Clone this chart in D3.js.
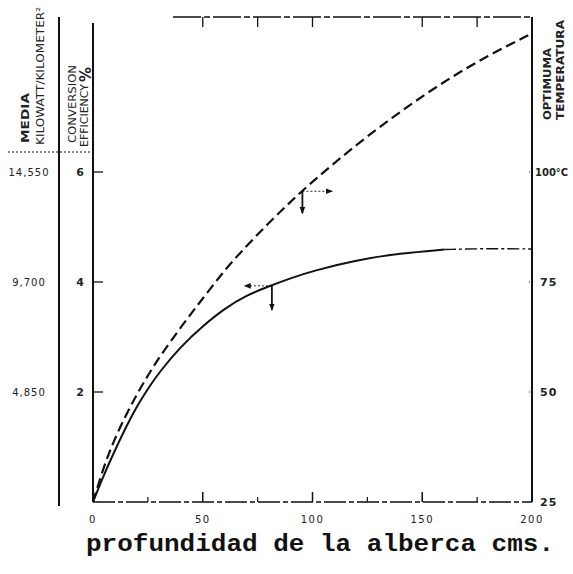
<!DOCTYPE html>
<html>
<head>
<meta charset="utf-8">
<script src="https://cdn.jsdelivr.net/npm/d3@7"></script>
<style>
  body { margin: 0; background: #fff; }
  svg { display: block; }
  .lbl { font-family: "DejaVu Sans", sans-serif; fill: #222; }
  .title { font-family: "Liberation Mono", monospace; font-weight: bold; fill: #111; }
</style>
</head>
<body>
<div id="chart"></div>
<script>
// depth of the pool (cms) and values
const depth = [0, 5, 10, 15, 20, 25, 30, 40, 50, 60, 70, 80, 90, 100, 120, 140, 160, 180, 200];
const solidValue = [0, 0.5, 0.94, 1.36, 1.74, 2.06, 2.35, 2.83, 3.2, 3.52, 3.76, 3.92, 4.07, 4.2, 4.4, 4.52, 4.59, 4.61, 4.6];
const dashValue = [0, 0.66, 1.16, 1.58, 1.96, 2.3, 2.62, 3.18, 3.7, 4.22, 4.66, 5.07, 5.46, 5.83, 6.5, 7.1, 7.65, 8.12, 8.52];
// the solid curve turns into a dash-dot line after this depth
const solidBreak = 160;

// axes
const xMajor = [0, 50, 100, 150, 200];
const xMinor = [25, 75, 125, 175];
const xTopTicks = [50, 75, 100, 150, 175];
const effTicks = [2, 4, 6];
const effLabels = ['2', '4', '6'];
const mediaLabels = ['4,850', '9,700', '14,550'];
const tempTicks = [0, 2, 4, 6];
const tempLabels = ['25', '50', '75', '100\u00b0C'];

// reading markers on the curves: [depth, value on curve, value of arrow tip, depth of side arrow]
const solidMarker = [81.5, 3.93, 3.49, 69];
const dashMarker = [95.4, 5.65, 5.25, 109];

const width = 573, height = 574;
const svg = d3.select('#chart').append('svg')
    .attr('width', width)
    .attr('height', height);

const x = d3.scaleLinear().domain([0, 200]).range([93, 532]);
const y = d3.scaleLinear().domain([0, 6]).range([502, 172]);
const yTop = 17, yBottom = 502;
const ink = '#111';

const defs = svg.append('defs');
defs.append('marker')
    .attr('id', 'head')
    .attr('viewBox', '0 0 10 10')
    .attr('refX', 9).attr('refY', 5)
    .attr('markerWidth', 7).attr('markerHeight', 7)
    .attr('markerUnits', 'userSpaceOnUse')
    .attr('orient', 'auto')
  .append('path')
    .attr('d', 'M0,1 L10,5 L0,9 Z')
    .attr('fill', ink);

//=============== frame ===============
const frame = svg.append('g').attr('stroke', ink).attr('fill', 'none');
// outer left axis (media)
frame.append('line')
    .attr('x1', 59).attr('x2', 59).attr('y1', yTop).attr('y2', yBottom + 4)
    .attr('stroke-width', 2);
// inner left axis (efficiency)
frame.append('line')
    .attr('x1', x(0)).attr('x2', x(0)).attr('y1', 23).attr('y2', yBottom)
    .attr('stroke-width', 2);
// right axis (temperature)
frame.append('line')
    .attr('x1', x(200)).attr('x2', x(200)).attr('y1', yTop).attr('y2', yBottom)
    .attr('stroke-width', 2);
// top border
frame.append('line')
    .attr('x1', 173).attr('x2', x(200)).attr('y1', yTop).attr('y2', yTop)
    .attr('stroke-width', 1.3)
    .attr('stroke-dasharray', '28,3,6,3');
// bottom axis
frame.append('line')
    .attr('x1', x(0)).attr('x2', x(200)).attr('y1', yBottom).attr('y2', yBottom)
    .attr('stroke-width', 1.3)
    .attr('stroke-dasharray', '22,3,5,3');
// header separator
frame.append('line')
    .attr('x1', 8).attr('x2', x(0)).attr('y1', 152).attr('y2', 152)
    .attr('stroke-width', 1)
    .attr('stroke-dasharray', '2,2');

// ticks
frame.selectAll('.xmaj').data(xMajor.slice(1, 4)).enter().append('line')
    .attr('x1', d => x(d)).attr('x2', d => x(d))
    .attr('y1', yBottom).attr('y2', yBottom - 10)
    .attr('stroke-width', 1.5);
frame.selectAll('.xmin').data(xMinor).enter().append('line')
    .attr('x1', d => x(d)).attr('x2', d => x(d))
    .attr('y1', yBottom).attr('y2', yBottom - 5)
    .attr('stroke-width', 1.2);
frame.selectAll('.xtop').data(xTopTicks).enter().append('line')
    .attr('x1', d => x(d)).attr('x2', d => x(d))
    .attr('y1', yTop).attr('y2', yTop + 10)
    .attr('stroke-width', 1.3);
frame.selectAll('.ytick').data(effTicks).enter().append('line')
    .attr('x1', x(0)).attr('x2', x(0) + 10)
    .attr('y1', d => y(d)).attr('y2', d => y(d))
    .attr('stroke-width', 1.3);
frame.selectAll('.rtick').data(tempTicks.slice(1)).enter().append('line')
    .attr('x1', x(200) - 3).attr('x2', x(200))
    .attr('y1', d => y(d)).attr('y2', d => y(d))
    .attr('stroke-width', 1)
    .attr('stroke-dasharray', '1,1');

//=============== labels ===============
const labels = svg.append('g').attr('class', 'lbl');
labels.selectAll('.xl').data(xMajor).enter().append('text')
    .attr('x', d => x(d)).attr('y', 523)
    .attr('text-anchor', 'middle')
    .attr('font-size', 10)
    .attr('letter-spacing', 1.5)
    .text(d => d);
labels.selectAll('.el').data(effTicks).enter().append('text')
    .attr('x', 80).attr('y', d => y(d) + 4)
    .attr('text-anchor', 'middle')
    .attr('font-size', 11)
    .attr('font-weight', 'bold')
    .text((d, i) => effLabels[i]);
labels.selectAll('.ml').data(effTicks).enter().append('text')
    .attr('x', 29).attr('y', d => y(d) + 4)
    .attr('text-anchor', 'middle')
    .attr('font-size', 10)
    .attr('letter-spacing', 1)
    .text((d, i) => mediaLabels[i]);
labels.selectAll('.tl').data(tempTicks).enter().append('text')
    .attr('x', d => d === 6 ? 535 : 540).attr('y', d => y(d) + 4)
    .attr('font-size', d => d === 6 ? 10 : 11)
    .attr('font-weight', 'bold')
    .attr('letter-spacing', d => d === 6 ? 0 : 1)
    .text((d, i) => tempLabels[i]);

// rotated axis titles: [text, baseline x, lower y, upper y, bold]
const vTitles = [
    ['MEDIA', 29, 143, 93, true],
    ['KILOWATT/KILOMETER\u00b2', 44, 145, 7, false],
    ['CONVERSION', 76, 143, 65, false],
    ['EFFICIENCY', 88, 147, 84, false],
    ['%', 91, 82, 36, true],
    ['OPTIMUMA', 551, 120, 48, true],
    ['TEMPERATURA', 564, 120, 20, true]
];
labels.selectAll('.vt').data(vTitles).enter().append('text')
    .attr('transform', d => 'translate(' + d[1] + ',' + d[2] + ') rotate(-90)')
    .attr('font-size', d => d[0] === '%' ? 15 : 10)
    .attr('font-weight', d => d[4] ? 'bold' : 'normal')
    .attr('textLength', d => d[0] === '%' ? null : d[2] - d[3])
    .attr('lengthAdjust', 'spacingAndGlyphs')
    .text(d => d[0]);

svg.append('text')
    .attr('class', 'title')
    .attr('x', 86).attr('y', 551)
    .attr('font-size', 24)
    .attr('textLength', 468)
    .attr('lengthAdjust', 'spacingAndGlyphs')
    .text('profundidad de la alberca cms.');

//=============== curves ===============
const line = d3.line()
    .x(d => x(d[0]))
    .y(d => y(d[1]))
    .curve(d3.curveBasis);

const solidPts = depth.map((d, i) => [d, solidValue[i]]);
const dashPts = depth.map((d, i) => [d, dashValue[i]]);

const curves = svg.append('g').attr('fill', 'none').attr('stroke', ink);
curves.append('path')
    .attr('d', line(dashPts))
    .attr('stroke-width', 2.2)
    .attr('stroke-dasharray', '10,5');
curves.append('path')
    .attr('d', line(solidPts.filter(p => p[0] <= solidBreak)))
    .attr('stroke-width', 2);
curves.append('path')
    .attr('d', line(solidPts.filter(p => p[0] >= solidBreak)))
    .attr('stroke-width', 1.4)
    .attr('stroke-dasharray', '12,3,3,3');

// reading markers
[solidMarker, dashMarker].forEach(m => {
    curves.append('line')
        .attr('x1', x(m[0])).attr('x2', x(m[0]))
        .attr('y1', y(m[1])).attr('y2', y(m[2]))
        .attr('stroke-width', 1.8)
        .attr('marker-end', 'url(#head)');
    curves.append('line')
        .attr('x1', x(m[0])).attr('x2', x(m[3]))
        .attr('y1', y(m[1])).attr('y2', y(m[1]))
        .attr('stroke-width', 0.9)
        .attr('stroke-dasharray', '2,2')
        .attr('marker-end', 'url(#head)');
});
</script>
</body>
</html>
